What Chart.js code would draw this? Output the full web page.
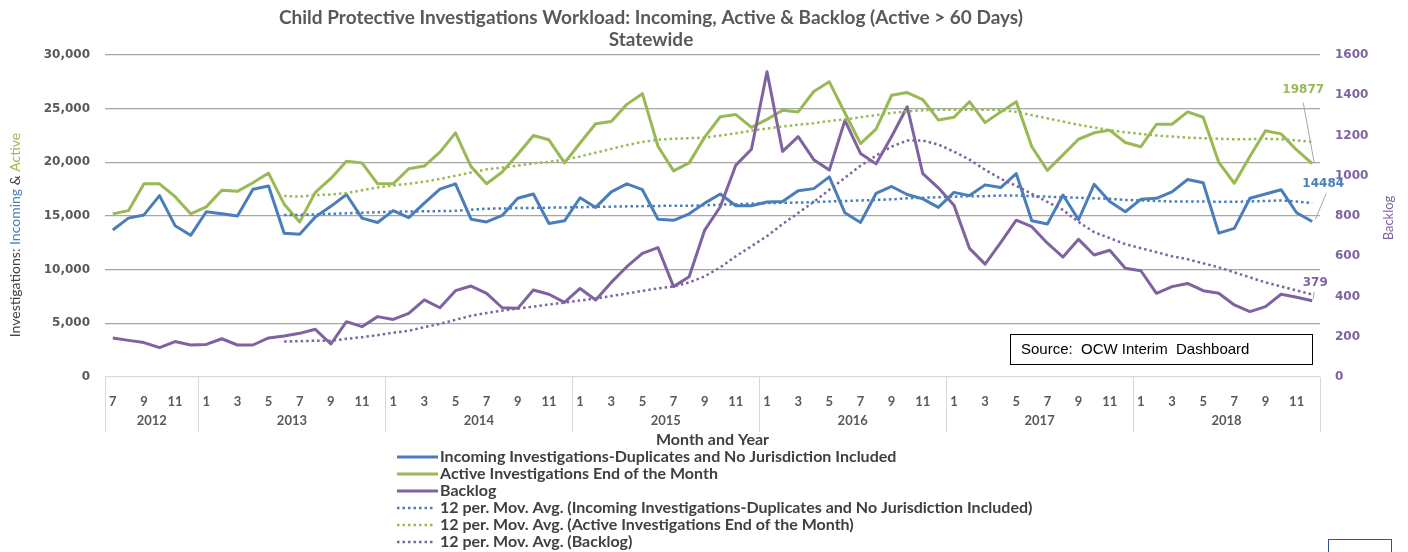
<!DOCTYPE html>
<html>
<head>
<meta charset="utf-8">
<script src="https://cdn.jsdelivr.net/npm/chart.js@4/dist/chart.umd.min.js"></script>
<style>
  html, body { margin: 0; padding: 0; background: #fff; }
</style>
</head>
<body>
<canvas id="chart" width="1408" height="552"></canvas>
<script>
// Month labels, Jul 2012 - Dec 2018
const monthLabels = [
  '7','8','9','10','11','12',
  '1','2','3','4','5','6','7','8','9','10','11','12',
  '1','2','3','4','5','6','7','8','9','10','11','12',
  '1','2','3','4','5','6','7','8','9','10','11','12',
  '1','2','3','4','5','6','7','8','9','10','11','12',
  '1','2','3','4','5','6','7','8','9','10','11','12',
  '1','2','3','4','5','6','7','8','9','10','11','12'
];
const yearLabels = ['2012','2013','2014','2015','2016','2017','2018'];

const incoming = [
  13700,14800,15100,16900,14100,13200,
  15400,15200,15000,17500,17800,13400,13300,14900,15900,17000,14800,14400,
  15500,14850,16200,17500,18000,14700,14450,15050,16650,17050,14300,14550,
  16700,15800,17250,18000,17450,14700,14600,15200,16200,17050,15950,15950,
  16300,16350,17350,17550,18650,15300,14400,17100,17750,17000,16600,15800,
  17200,16900,17900,17650,18950,14550,14250,16950,14650,17950,16350,15400,
  16550,16650,17250,18400,18100,13400,13850,16650,17050,17450,15300,14484
];
const active = [
  15200,15500,18000,18000,16800,15200,
  15850,17400,17300,18100,19000,16100,14450,17200,18500,20100,19950,18000,
  18000,19400,19650,20950,22750,19600,18000,19100,20750,22500,22100,19950,
  21800,23600,23800,25400,26400,21500,19200,19950,22350,24250,24450,23250,
  24000,24850,24700,26600,27500,24600,21750,23100,26250,26500,25850,23950,
  24200,25650,23700,24700,25650,21450,19250,20700,22150,22750,23000,21850,
  21450,23550,23550,24700,24200,20000,18050,20550,22950,22650,21150,19877
];
const backlog = [
  194,182,171,146,176,159,
  162,190,159,159,194,204,217,237,164,275,250,300,
  286,316,383,344,429,452,416,344,341,432,411,371,
  440,383,470,548,614,643,449,498,730,846,1053,1132,
  1517,1121,1194,1080,1028,1275,1111,1059,1195,1343,1010,940,
  854,639,561,668,779,747,665,596,684,606,630,540,
  528,416,449,465,429,416,358,325,350,411,396,379
];

// 12 per. moving averages as drawn (first 11 months empty)
const incomingAvg = [
  null,null,null,null,null,null,null,null,null,null,null,15100,
  15100,15150,15200,15250,15300,15350,15400,15420,15440,15460,15480,15590,
  15680,15700,15750,15750,15780,15800,15820,15850,15870,15900,15920,15940,
  15950,15960,16000,16050,16100,16150,16200,16230,16250,16300,16350,16400,
  16450,16500,16550,16650,16700,16750,16800,16850,16850,16900,16900,16850,
  16800,16750,16700,16650,16600,16500,16450,16400,16350,16350,16350,16330,
  16330,16350,16400,16450,16350,16200
];
const activeAvg = [
  null,null,null,null,null,null,null,null,null,null,null,16870,
  16800,16950,17000,17150,17400,17650,17850,18000,18200,18450,18750,19050,
  19350,19500,19700,19900,20050,20250,20550,20900,21250,21600,21900,22100,
  22200,22250,22300,22500,22700,22950,23150,23350,23500,23650,23850,24000,
  24200,24400,24600,24750,24850,24900,24900,24900,24900,24880,24700,24400,
  24100,23800,23500,23250,23000,22800,22650,22500,22400,22300,22250,22200,
  22150,22150,22200,22150,22050,21900
];
const backlogAvg = [
  null,null,null,null,null,null,null,null,null,null,null,176,
  178,180,180,190,198,208,220,230,248,264,284,304,
  318,330,340,350,360,370,380,390,402,415,428,440,
  450,470,500,545,600,650,700,760,815,870,930,990,
  1050,1100,1145,1175,1175,1155,1120,1080,1030,985,950,910,
  870,830,770,720,690,660,640,620,600,585,565,545,
  520,495,470,450,430,410
];

const BLUE = '#4A7EBB';
const GREEN = '#98B954';
const PURPLE = '#7F63A1';
const GREY = '#595959';

const decor = {
  id: 'decor',
  afterDraw(chart) {
    const { ctx, chartArea: a, scales: { x } } = chart;
    ctx.save();

    // title
    ctx.fillStyle = GREY;
    ctx.font = 'bold 19px Lato';
    ctx.textAlign = 'center';
    ctx.textBaseline = 'middle';
    ctx.fillText('Child Protective Investigations Workload: Incoming, Active & Backlog (Active > 60 Days)', 651, 18);
    ctx.fillText('Statewide', 651, 40);

    // category axis: year groups
    const edges = [a.left];
    monthLabels.forEach((m, i) => {
      if (m === '1' && i > 0) edges.push((x.getPixelForValue(i - 1) + x.getPixelForValue(i)) / 2);
    });
    edges.push(a.right);
    ctx.strokeStyle = '#d9d9d9';
    ctx.lineWidth = 1;
    ctx.beginPath();
    edges.forEach(e => {
      ctx.moveTo(Math.round(e) + 0.5, a.bottom);
      ctx.lineTo(Math.round(e) + 0.5, 432);
    });
    ctx.stroke();
    ctx.font = 'bold 13px Lato';
    ctx.fillStyle = GREY;
    yearLabels.forEach((yr, k) => {
      ctx.fillText(yr, (edges[k] + edges[k + 1]) / 2, 421);
    });

    ctx.font = 'bold 16px Lato';
    ctx.fillStyle = '#404040';
    ctx.fillText('Month and Year', (a.left + a.right) / 2, 440);

    // left axis title, multi-coloured
    const parts = [['Investigations: ', '#404040'], ['Incoming', BLUE], [' & ', '#404040'], ['Active', GREEN]];
    ctx.font = '14px Lato';
    const total = parts.reduce((s, p) => s + ctx.measureText(p[0]).width, 0);
    ctx.save();
    ctx.translate(15, 235);
    ctx.rotate(-Math.PI / 2);
    ctx.textAlign = 'left';
    let px = -total / 2;
    parts.forEach(p => {
      ctx.fillStyle = p[1];
      ctx.fillText(p[0], px, 0);
      px += ctx.measureText(p[0]).width;
    });
    ctx.restore();

    // right axis title
    ctx.save();
    ctx.translate(1389, 218);
    ctx.rotate(-Math.PI / 2);
    ctx.fillStyle = PURPLE;
    ctx.font = '13px Lato';
    ctx.textAlign = 'center';
    ctx.fillText('Backlog', 0, 0);
    ctx.restore();

    // legend
    ctx.textAlign = 'left';
    ctx.font = 'bold 16px Lato';
    chart.data.datasets.forEach((ds, i) => {
      const ly = 457 + 17 * i;
      ctx.strokeStyle = ds.borderColor;
      ctx.lineWidth = ds.borderDash ? 2.5 : 3;
      ctx.setLineDash(ds.borderDash || []);
      ctx.beginPath();
      ctx.moveTo(397, ly);
      ctx.lineTo(ds.borderDash ? 434 : 438, ly);
      ctx.stroke();
      ctx.setLineDash([]);
      ctx.fillStyle = '#404040';
      ctx.fillText(ds.label, 440, ly);
    });

    // source box
    ctx.strokeStyle = '#000';
    ctx.lineWidth = 1;
    ctx.strokeRect(1010.5, 334.5, 302, 30);
    ctx.fillStyle = '#000';
    ctx.font = '15px "Liberation Sans"';
    ctx.fillText('Source:  OCW Interim  Dashboard', 1021, 350);

    // last-value labels with leader lines
    const last = monthLabels.length - 1;
    const pA = chart.getDatasetMeta(1).data[last];
    const pI = chart.getDatasetMeta(0).data[last];
    const pB = chart.getDatasetMeta(2).data[last];
    ctx.strokeStyle = '#a6a6a6';
    ctx.lineWidth = 1;
    ctx.beginPath();
    ctx.moveTo(pA.x - 9, pA.y - 61); ctx.lineTo(pA.x + 2, pA.y - 1);
    ctx.moveTo(pI.x + 14, pI.y - 28); ctx.lineTo(pI.x + 3, pI.y - 2);
    ctx.moveTo(pB.x + 2, pB.y - 9); ctx.lineTo(pB.x + 1, pB.y - 2);
    ctx.stroke();
    ctx.font = 'bold 12px "DejaVu Sans"';
    ctx.textAlign = 'center';
    ctx.fillStyle = GREEN;
    ctx.fillText(String(active[last]), pA.x - 9, pA.y - 74);
    ctx.fillStyle = BLUE;
    ctx.fillText(String(incoming[last]), pI.x + 11, pI.y - 38);
    ctx.fillStyle = PURPLE;
    ctx.fillText(String(backlog[last]), pB.x + 3, pB.y - 18);

    // cut-off box at bottom right
    ctx.strokeStyle = '#2F5597';
    ctx.lineWidth = 1;
    ctx.strokeRect(1328.5, 539.5, 63, 20);

    ctx.restore();
  }
};

const ctx = document.getElementById('chart').getContext('2d');
new Chart(ctx, {
  type: 'line',
  data: {
    labels: monthLabels,
    datasets: [
      { label: 'Incoming Investigations-Duplicates and No Jurisdiction Included', data: incoming,
        borderColor: BLUE, borderWidth: 3, yAxisID: 'y', order: 3 },
      { label: 'Active Investigations End of the Month', data: active,
        borderColor: GREEN, borderWidth: 3, yAxisID: 'y', order: 2 },
      { label: 'Backlog', data: backlog,
        borderColor: PURPLE, borderWidth: 3, yAxisID: 'y1', order: 1 },
      { label: '12 per. Mov. Avg. (Incoming Investigations-Duplicates and No Jurisdiction Included)', data: incomingAvg,
        borderColor: BLUE, borderWidth: 2.5, borderDash: [2.5, 3], yAxisID: 'y', order: 0 },
      { label: '12 per. Mov. Avg. (Active Investigations End of the Month)', data: activeAvg,
        borderColor: GREEN, borderWidth: 2.5, borderDash: [2.5, 3], yAxisID: 'y', order: 0 },
      { label: '12 per. Mov. Avg. (Backlog)', data: backlogAvg,
        borderColor: PURPLE, borderWidth: 2.5, borderDash: [2.5, 3], yAxisID: 'y1', order: 0 }
    ]
  },
  options: {
    responsive: false,
    animation: false,
    layout: { padding: { top: 55, left: 0, right: 0, bottom: 0 } },
    elements: {
      point: { radius: 0 },
      line: { tension: 0, borderJoinStyle: 'round', fill: false }
    },
    scales: {
      x: {
        offset: true,
        grid: { display: false },
        border: { display: false },
        ticks: {
          autoSkip: false,
          maxRotation: 0,
          padding: 9,
          color: GREY,
          font: { family: 'Lato', size: 13, weight: 'bold' },
          callback: (v, i) => (Number(monthLabels[i]) % 2 === 1 ? monthLabels[i] : '')
        },
        afterFit: s => { s.height = 175; }
      },
      y: {
        position: 'left',
        min: 0,
        max: 30000,
        ticks: {
          stepSize: 5000,
          padding: 15,
          color: GREY,
          font: { family: 'DejaVu Sans', size: 12, weight: 'bold' },
          callback: v => v.toLocaleString('en-US')
        },
        grid: {
          drawTicks: false,
          lineWidth: 1.3,
          color: c => (c.tick && c.tick.value === 0 ? '#d9d9d9' : '#a6a6a6')
        },
        border: { display: false },
        afterFit: s => { s.width = 105; }
      },
      y1: {
        position: 'right',
        min: 0,
        max: 1600,
        ticks: {
          stepSize: 200,
          padding: 15,
          color: PURPLE,
          font: { family: 'DejaVu Sans', size: 12, weight: 'bold' },
          callback: v => String(v)
        },
        grid: { drawOnChartArea: false, drawTicks: false },
        border: { display: false },
        afterFit: s => { s.width = 88; }
      }
    },
    plugins: {
      legend: { display: false },
      title: { display: false },
      tooltip: { enabled: false }
    }
  },
  plugins: [decor]
});
</script>
</body>
</html>
